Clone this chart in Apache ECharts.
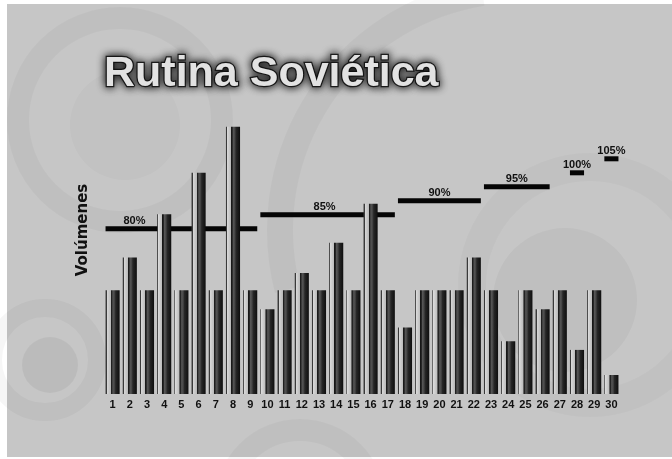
<!DOCTYPE html>
<html>
<head>
<meta charset="utf-8">
<script src="https://cdn.jsdelivr.net/npm/echarts@6/dist/echarts.min.js"></script>
<style>
  html, body { margin: 0; padding: 0; background: #ffffff; }
  #chart { width: 672px; height: 459px; }
</style>
</head>
<body>
<div id="chart"></div>
<script>
// Sesiones 1..30 del programa
const sesiones = ['1','2','3','4','5','6','7','8','9','10','11','12','13','14','15',
                  '16','17','18','19','20','21','22','23','24','25','26','27','28','29','30'];
// Volumen de cada sesión (series x repeticiones)
const volumenes = [12, 15.8, 12, 20.8, 12, 25.6, 12, 30.9, 12,
                   9.8, 12, 14, 12, 17.5, 12, 22, 12,
                   7.7, 12, 12, 12, 15.8,
                   12, 6.1, 12, 9.8, 12, 5.1, 12, 2.2];
// Tramos de intensidad: sesión inicial, sesión final, % de la máxima
const tramoInicio = [1, 10, 18, 23, 28, 30];
const tramoFin    = [9, 17, 22, 26, 28, 30];
const intensidad  = [80, 85, 90, 95, 100, 105];
const etiquetas   = ['80%', '85%', '90%', '95%', '100%', '105%'];

const chart = echarts.init(document.getElementById('chart'), null, { renderer: 'canvas' });

// Cilindro: filo oscuro, brillo claro y cuerpo oscuro
const barFill = new echarts.graphic.LinearGradient(0, 0, 1, 0, [
  { offset: 0.00, color: '#3a3a3a' },
  { offset: 0.08, color: '#3a3a3a' },
  { offset: 0.08, color: '#dadada' },
  { offset: 0.36, color: '#bababa' },
  { offset: 0.37, color: '#151515' },
  { offset: 0.45, color: '#262626' },
  { offset: 0.52, color: '#555555' },
  { offset: 0.62, color: '#474747' },
  { offset: 0.72, color: '#262626' },
  { offset: 1.00, color: '#0e0e0e' }
]);

const BAR_FRACTION = 0.82;
// Desplazamiento horizontal de la etiqueta de cada tramo (px)
const labelNudge = [-47, -3, 0, 0, 0, 0];

const tramos = tramoInicio.map((s, i) => [s - 1, tramoFin[i] - 1, intensidad[i], i]);

function renderTramo(params, api) {
  const s = api.value(0), e = api.value(1), p = api.value(2), i = api.value(3);
  const a = api.coord([s, p]);
  const b = api.coord([e, p]);
  const bw = api.size([1, 0])[0] * BAR_FRACTION;
  const x1 = a[0] - bw / 2, x2 = b[0] + bw / 2;
  return {
    type: 'group',
    children: [
      { type: 'rect', shape: { x: x1, y: a[1] - 2.5, width: x2 - x1, height: 5 },
        style: { fill: '#050505' } },
      { type: 'text', z2: 10,
        style: { text: etiquetas[i], x: (x1 + x2) / 2 + labelNudge[i], y: a[1] - 8,
                 align: 'center', verticalAlign: 'middle',
                 font: 'bold 11px "Liberation Sans Narrow", "Liberation Sans", sans-serif',
                 fill: '#111' } }
    ]
  };
}

// Fondo gris con anillos difuminados
const ring = (cx, cy, r, w, a) => ({
  type: 'circle', silent: true, z: -10,
  shape: { cx, cy, r },
  style: { fill: null, stroke: 'rgba(0,0,0,' + a + ')', lineWidth: w, shadowBlur: 24, shadowColor: 'rgba(0,0,0,' + a + ')' }
});
const arc = (cx, cy, r, a0, a1, w, a) => ({
  type: 'arc', silent: true, z: -10,
  shape: { cx, cy, r, startAngle: a0, endAngle: a1, clockwise: true },
  style: { fill: null, stroke: 'rgba(0,0,0,' + a + ')', lineWidth: w, shadowBlur: 24, shadowColor: 'rgba(0,0,0,' + a + ')' }
});
const disk = (cx, cy, r, a) => ({
  type: 'circle', silent: true, z: -10,
  shape: { cx, cy, r },
  style: { fill: 'rgba(0,0,0,' + a + ')', shadowBlur: 26, shadowColor: 'rgba(0,0,0,' + a + ')' }
});

const option = {
  animation: false,
  backgroundColor: '#ffffff',
  title: {
    text: 'Rutina Soviética',
    left: 99, top: 48,
    textStyle: {
      fontFamily: '"Liberation Sans", Arial, sans-serif',
      fontWeight: 'bold', fontSize: 43,
      color: '#e2e2e2',
      textBorderColor: '#222', textBorderWidth: 2.5,
      textShadowColor: 'rgba(0,0,0,0.95)', textShadowBlur: 9
    }
  },
  graphic: [
    { type: 'rect', silent: true, z: -20, shape: { x: 7, y: 4, width: 665, height: 453 },
      style: { fill: '#c6c6c6' } },
    ring(120, 120, 102, 22, 0.03),
    disk(125, 125, 55, 0.02),
    ring(45, 360, 52, 18, 0.035),
    disk(50, 365, 28, 0.05),
    ring(590, 285, 118, 28, 0.025),
    disk(565, 300, 72, 0.035),
    ring(300, 505, 75, 22, 0.03),
    arc(520, 230, 240, Math.PI * 0.92, Math.PI * 1.45, 26, 0.03),
    {
      type: 'text', z: 50, x: 83, y: 230, rotation: Math.PI / 2,
      style: {
        text: 'Volúmenes', align: 'center', verticalAlign: 'middle',
        font: 'bold 15px "DejaVu Sans", sans-serif', fill: '#111'
      }
    }
  ],
  grid: { left: 104, right: 52, top: 100, bottom: 65, containLabel: false },
  xAxis: {
    type: 'category',
    data: sesiones,
    axisLine: { show: false },
    axisTick: { show: false },
    axisLabel: {
      margin: 5, interval: 0, color: '#111',
      fontFamily: '"Liberation Sans Narrow", "Liberation Sans", sans-serif',
      fontWeight: 'bold', fontSize: 11
    }
  },
  yAxis: [
    {
      type: 'value', min: 0, max: 34,
      axisLine: { show: false }, axisTick: { show: false }, axisLabel: { show: false },
      splitLine: { show: false }
    },
    {
      type: 'value', min: 21, max: 126, show: false
    }
  ],
  series: [
    {
      type: 'custom',
      xAxisIndex: 0, yAxisIndex: 1,
      renderItem: renderTramo,
      encode: { x: [0, 1], y: 2 },
      data: tramos,
      z: 1
    },
    {
      type: 'bar',
      data: volumenes,
      barWidth: '82%',
      itemStyle: { color: barFill },
      z: 2
    }
  ]
};

chart.setOption(option);
</script>
</body>
</html>
